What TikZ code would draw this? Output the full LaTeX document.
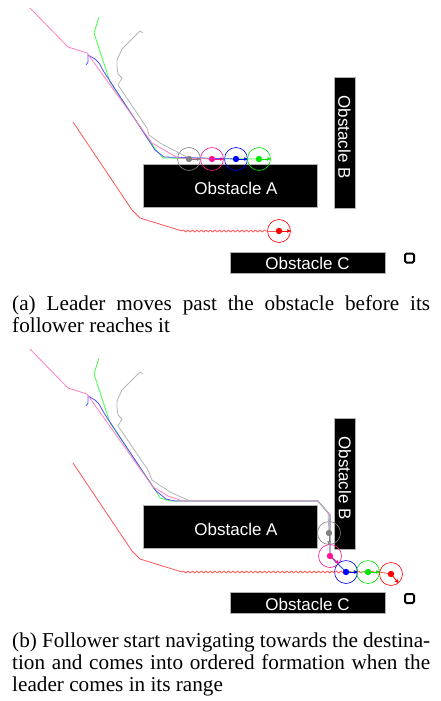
\documentclass[tikz,border=0pt]{standalone}
\usepackage{fontspec}
\setmainfont{Liberation Serif}
\newfontfamily\obsfont{Liberation Sans}
\usetikzlibrary{arrows.meta,decorations.pathmorphing}

\definecolor{rgray}{HTML}{808080}
\definecolor{rpink}{HTML}{FF1493}
\definecolor{rblue}{HTML}{0000FF}
\definecolor{rgreen}{HTML}{00E800}
\definecolor{rred}{HTML}{FF0000}
\definecolor{tgray}{HTML}{B4B4B4}
\definecolor{tpink}{HTML}{FF80C0}
\definecolor{tblue}{HTML}{5050FF}
\definecolor{tgreen}{HTML}{40FF40}
\definecolor{tred}{HTML}{FF5555}

\begin{document}
\hyphenpenalty=10000
\begin{tikzpicture}[x=1pt,y=-1pt,
  obstacle/.style={fill=black, draw=gray!60, line width=0.6pt, inner sep=0pt},
  obslabel/.style={text=white, inner sep=0pt, font=\obsfont\fontsize{17}{17}\selectfont},
  goalbox/.style={draw=black, fill=white, line width=2pt, rounded corners=1.5pt, minimum size=9pt, inner sep=0pt},
  robot/.style={circle, draw=#1, line width=0.6pt, minimum size=23pt, inner sep=0pt},
  traj/.style={draw=#1, line width=0.8pt, line join=round},
  heading/.style={#1, -{Triangle[length=3.5pt,width=3.5pt]}, line width=0.8pt},
  wavy/.style={decorate, decoration={snake, segment length=4.5pt, amplitude=1pt}},
  caption/.style={text width=418pt, align=justify, inner sep=0pt,
    font=\fontsize{21.2}{22.4}\selectfont}
]
\useasboundingbox (0,0) rectangle (440,701);

% ---------- (a) ----------
\begin{scope}
  \node[obstacle, minimum width=174pt, minimum height=43pt] (obsA) at (230,185.5) {};
  \node[obslabel] (labA) at (236,188) {Obstacle A};
  \node[obstacle, minimum width=21pt, minimum height=131pt] (obsB) at (344.5,142.5) {};
  \node[obslabel, rotate=-90] (labB) at (344.5,137) {Obstacle B};
  \node[obstacle, minimum width=155pt, minimum height=21pt] (obsC) at (307.5,262.5) {};
  \node[obslabel] (labC) at (307.5,263) {Obstacle C};
  \node[goalbox] (goal) at (409.5,258) {};

  \node[robot=rgray]  (ga) at (189,159) {};
  \node[robot=rpink]  (pa) at (212,159) {};
  \node[robot=rblue]  (ba) at (236,159) {};
  \node[robot=rgreen] (na) at (259,159) {};
  \node[robot=rred]   (ra) at (279,231) {};

  \draw[traj=tred] (73,122) -- (132,210) -- (140,218) -- (182,231) coordinate (wa);
  \draw[traj=tred, wavy] (wa) -- (ra.west);
  \draw[traj=tred] (ra.west) -- (ra.center);
  \draw[traj=tgreen] (99,17) -- (94,33) -- (110,82) -- (156,150) -- (163,158) -- (na.center);
  \draw[traj=tblue] (86,65) -- (88,62) -- (88,55) -- (95,59) -- (99,63) -- (104,72) -- (155,150) -- (164,157) -- (ba.center);
  \draw[traj=tpink] (30,8) -- (68,47) -- (87,53) -- (152,143) -- (178,158) -- (pa.center);
  \draw[traj=tgray] (143,33) -- (140,31) -- (122,49) -- (117,60) -- (117,67) -- (118,74) -- (122,78) -- (118,85) -- (147,128) -- (149,135) -- (160,143) -- (187,157) -- (ga.center);

  \foreach \r/\c in {ga/rgray, pa/rpink, ba/rblue, na/rgreen, ra/rred}{
    \fill[\c] (\r.center) circle (3.2pt);
    \draw[heading=\c] (\r.center) -- (\r.east);
  }

  \node[caption, anchor=base west] (capA) at (12,310)
    {(a) Leader moves past the obstacle before its\linebreak follower reaches it};
\end{scope}

% ---------- (b) ----------
\begin{scope}[shift={(0,341)}]
  \node[obstacle, minimum width=174pt, minimum height=43pt] (obsA2) at (230,185.5) {};
  \node[obslabel] (labA2) at (236,188.5) {Obstacle A};
  \node[obstacle, minimum width=21pt, minimum height=131pt] (obsB2) at (345,142.5) {};
  \node[obslabel, rotate=-90] (labB2) at (345,137) {Obstacle B};
  \node[obstacle, minimum width=155pt, minimum height=21pt] (obsC2) at (307.5,262) {};
  \node[obslabel] (labC2) at (307.5,263) {Obstacle C};
  \node[goalbox] (goal2) at (409.5,257.5) {};

  \node[robot=rgray]  (gb) at (329,192) {};
  \node[robot=rpink]  (pb) at (330,215) {};
  \node[robot=rblue]  (bb) at (346,231) {};
  \node[robot=rgreen] (nb) at (368,231) {};
  \node[robot=rred]   (rb) at (391,233) {};

  \draw[traj=tred] (73,122) -- (132,210) -- (140,218) -- (182,231) coordinate (wb);
  \draw[traj=tred, wavy] (wb) -- (rb.west |- wb);
  \draw[traj=tred] (rb.west |- wb) -- (rb.center);
  \draw[traj=tgreen] (99,17) -- (94,33) -- (110,82) -- (156,150) -- (160,157) -- (170,160) -- (318,160) -- (330,174) -- (pb.center) -- (bb.center) -- (nb.center);
  \draw[traj=tblue] (86,65) -- (88,62) -- (88,55) -- (95,59) -- (99,63) -- (104,72) -- (155,149) -- (166,158) -- (175,160) -- (318,160) -- (330,174) -- (pb.center) -- (bb.center);
  \draw[traj=tpink] (30,8) -- (68,47) -- (87,53) -- (153,146) -- (168,155) -- (183,160) -- (318,160) -- (330,174) -- (pb.center);
  \draw[traj=tgray] (143,33) -- (140,31) -- (122,49) -- (117,60) -- (117,67) -- (118,74) -- (122,78) -- (118,85) -- (148,129) -- (152,139) -- (170,151) -- (190,160) -- (317,160) -- (328,171) -- (gb.center);

  \foreach \r/\c/\a in {gb/rgray/south, pb/rpink/-40, bb/rblue/east, nb/rgreen/east, rb/rred/-50}{
    \fill[\c] (\r.center) circle (3.2pt);
    \draw[heading=\c] (\r.center) -- (\r.\a);
  }

  \node[caption, anchor=base west] (capB) at (12,306)
    {(b) Follower start navigating towards the destina-\linebreak tion and comes into ordered formation when the\linebreak leader comes in its range};
\end{scope}
\end{tikzpicture}
\end{document}
